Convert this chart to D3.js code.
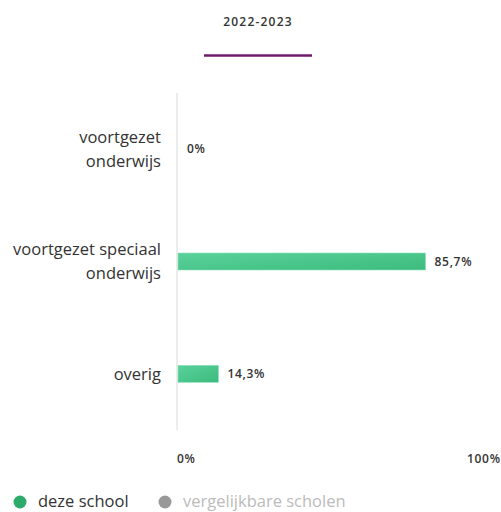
<!DOCTYPE html>
<html>
<head>
<meta charset="utf-8">
<script src="https://cdn.jsdelivr.net/npm/d3@7"></script>
<style>
	body { margin: 0; background: #fff; }
	svg { display: block; font-family: "Open Sans", "Lato", sans-serif; }
</style>
</head>
<body>
<div id="chart"></div>
<script>
let categories	= [["voortgezet", "onderwijs"], ["voortgezet speciaal", "onderwijs"], ["overig"]];
let values		= [0, 85.7, 14.3];
let valueLabels	= ["0%", "85,7%", "14,3%"];
let ticks		= [0, 100];
let tickLabels	= ["0%", "100%"];
let legend		= [{ label: "deze school", color: "#2eaa6b", text: "#333" }, { label: "vergelijkbare scholen", color: "#999", text: "#bbb" }];
let period		= "2022-2023";

let canvasWidth		= 501;
let canvasHeight	= 512;
let margin			= { top: 93, right: 34, bottom: 82, left: 177 };
let width			= canvasWidth - margin.left - margin.right;
let height			= canvasHeight - margin.top - margin.bottom;

let x = d3.scaleLinear().domain([0, 100]).range([0, width]);
let y = d3.scaleBand().domain(d3.range(categories.length)).range([0, height]);

let svg = d3.select("#chart").append("svg")
	.attr("width", canvasWidth)
	.attr("height", canvasHeight);

let defs = svg.append("defs");
let grad = defs.append("linearGradient").attr("id", "barGrad")
	.attr("x1", "0%").attr("y1", "0%").attr("x2", "100%").attr("y2", "100%");
grad.append("stop").attr("offset", "0%").attr("stop-color", "#5ad29b");
grad.append("stop").attr("offset", "100%").attr("stop-color", "#3dbb7d");

// header
svg.append("text")
	.attr("x", 258).attr("y", 26)
	.attr("text-anchor", "middle")
	.attr("font-size", 12).attr("font-weight", 600)
	.attr("letter-spacing", 1.2)
	.attr("fill", "#333")
	.text(period);
svg.append("line")
	.attr("x1", 204).attr("x2", 312).attr("y1", 55.5).attr("y2", 55.5)
	.attr("stroke", "#6e1a6c").attr("stroke-width", 2.5);

let g = svg.append("g").attr("transform", "translate(" + margin.left + "," + margin.top + ")");

// axis line
g.append("line")
	.attr("x1", 0).attr("x2", 0).attr("y1", 0).attr("y2", height)
	.attr("stroke", "#ececec").attr("stroke-width", 2);

let barH = 17;
let rows = g.selectAll("g.row").data(values).enter().append("g")
	.attr("class", "row")
	.attr("transform", (d, i) => "translate(0," + (y(i) + y.bandwidth() / 2) + ")");

rows.filter((d) => d > 0).append("rect")
	.attr("x", 1).attr("y", -barH / 2)
	.attr("width", (d) => x(d) - 1)
	.attr("height", barH)
	.attr("fill", "url(#barGrad)")
	.attr("stroke", "#8fe0bb").attr("stroke-width", 0.6);

rows.append("text")
	.attr("x", (d) => x(d) + (d > 0 ? 9 : 10))
	.attr("y", 0).attr("dy", "0.35em")
	.attr("font-size", 12).attr("font-weight", 600)
	.attr("letter-spacing", 0.7)
	.attr("fill", "#333")
	.text((d, i) => valueLabels[i]);

// category labels
let lineH = 24;
rows.append("text")
	.attr("x", -16)
	.attr("text-anchor", "end")
	.attr("font-size", 16.5)
	.attr("fill", "#333")
	.each(function (d, i) {
		let lines = categories[i];
		let start = -(lines.length - 1) * lineH / 2;
		d3.select(this).selectAll("tspan").data(lines).enter().append("tspan")
			.attr("x", -16)
			.attr("y", (l, j) => start + j * lineH)
			.attr("dy", "0.35em")
			.text((l) => l);
	});

// x ticks
g.append("g").attr("transform", "translate(0," + (height + 29) + ")")
	.selectAll("text").data(ticks).enter().append("text")
	.attr("x", (d) => x(d))
	.attr("dy", "0.35em")
	.attr("font-size", 12).attr("font-weight", 600)
	.attr("letter-spacing", 0.7)
	.attr("fill", "#333")
	.text((d, i) => tickLabels[i]);

// legend
let lg = svg.append("g").attr("transform", "translate(0,502)");
let lx = [20, 165];
legend.forEach((o, i) => {
	lg.append("circle").attr("cx", lx[i]).attr("cy", 0).attr("r", 6.5).attr("fill", o.color);
	lg.append("text").attr("x", lx[i] + 18).attr("dy", "0.32em")
		.attr("font-size", 16.5).attr("fill", o.text).text(o.label);
});
</script>
</body>
</html>
